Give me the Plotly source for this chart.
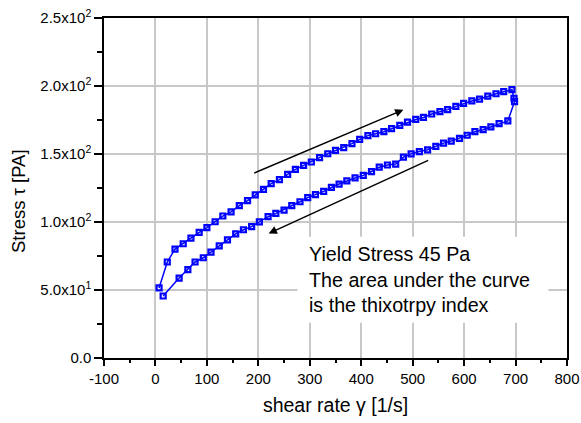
import plotly.graph_objects as go

# Flow curve: shear rate (1/s) vs stress (Pa), up-sweep then down-sweep
shear_rate = [7, 23, 38, 54, 69, 85, 100, 116, 131, 147, 163, 179, 194, 210, 225, 241,
              257, 272, 288, 303, 319, 335, 350, 366, 382, 397, 413, 428, 444, 459, 475,
              490, 506, 521, 537, 553, 568, 584, 599, 615, 630, 646, 662, 677, 693, 697, 698,
              685, 668, 652, 637, 621, 606, 591, 575, 560, 545, 529, 513, 497, 482, 467,
              451, 435, 420, 404, 388, 372, 357, 342, 327, 311, 296, 281, 265, 250, 234,
              219, 202, 187, 171, 156, 140, 124, 108, 93, 77, 63, 46, 15]
stress = [51.5, 70.6, 80.1, 84.0, 88.2, 92.4, 95.8, 100.2, 104.4, 107.4, 112.0, 115.7,
          119.9, 124.0, 128.2, 131.1, 135.0, 138.7, 141.6, 144.1, 147.3, 150.2, 152.6,
          154.7, 157.6, 160.7, 163.5, 164.9, 166.4, 168.6, 171.0, 173.5, 175.4, 176.9,
          179.4, 181.1, 182.6, 185.0, 187.2, 189.0, 190.4, 192.6, 194.3, 195.8, 197.3,
          191.0, 188.5,
          174.3, 172.3, 169.9, 167.9, 166.4, 163.8, 161.5, 159.5, 158.0, 155.6, 153.1,
          151.8, 150.1, 147.7, 142.6, 141.9, 140.3, 137.1, 134.3, 132.4, 130.3, 127.9,
          125.4, 122.5, 120.1, 117.9, 114.9, 112.0, 108.8, 106.3, 103.9, 100.1, 96.6,
          94.3, 91.3, 86.8, 82.4, 77.9, 73.7, 70.6, 65.0, 58.8, 45.6]

x_ticks = [-100, 0, 100, 200, 300, 400, 500, 600, 700, 800]
x_tick_text = ["-100", "0", "100", "200", "300", "400", "500", "600", "700", "800"]
y_ticks = [0, 50, 100, 150, 200, 250]
y_tick_text = ["0.0", "5.0x10<sup>1</sup>", "1.0x10<sup>2</sup>", "1.5x10<sup>2</sup>",
               "2.0x10<sup>2</sup>", "2.5x10<sup>2</sup>"]

# arrows: (head_x, head_y, tail_x, tail_y)
arrows = [(482, 182.5, 189, 135.5), (220, 91.5, 533, 145.8)]
note = "Yield Stress 45 Pa<br>The area under the curve<br>is the thixotrpy index"

FONT = "Liberation Sans, Arial, sans-serif"

fig = go.Figure()
fig.add_trace(go.Scatter(
    x=shear_rate, y=stress, mode="lines+markers",
    line=dict(color="#0000ff", width=1.5),
    marker=dict(symbol="square-open", size=5, color="#0000ff",
                line=dict(color="#0000ff", width=2.2)),
    showlegend=False, hoverinfo="skip"))

# white box behind the note
fig.add_shape(type="rect", xref="x", yref="y", x0=276, x1=764, y0=26, y1=89.2,
              fillcolor="white", line=dict(width=0), layer="between")

for hx, hy, tx, ty in arrows:
    fig.add_annotation(x=hx, y=hy, ax=tx, ay=ty, xref="x", yref="y", axref="x", ayref="y",
                       text="", showarrow=True, arrowhead=2, arrowsize=1.1,
                       arrowwidth=1.5, arrowcolor="black")

fig.add_annotation(x=295, y=57.5, xref="x", yref="y", xanchor="left", yanchor="middle",
                   text=note, showarrow=False, align="left",
                   font=dict(family=FONT, size=19.7, color="black"))

fig.add_annotation(x=18, y=201, xref="paper", yref="paper", textangle=-90,
                   text="Stress \u03c4 [PA]", showarrow=False,
                   xanchor="center", yanchor="middle",
                   font=dict(family=FONT, size=18.5, color="black"))

fig.update_layout(
    width=581, height=423,
    margin=dict(l=104, r=14, t=18, b=65),
    paper_bgcolor="white", plot_bgcolor="white",
    font=dict(family=FONT, size=15, color="black"),
    xaxis=dict(range=[-100, 800], tickvals=x_ticks, ticktext=x_tick_text, ticks="outside",
               ticklen=6, automargin=False,
               tickwidth=1.5, tickcolor="black", showline=True, linecolor="black",
               linewidth=1.5, mirror=True, showgrid=True, gridcolor="#c8c8c8",
               gridwidth=1.5, zeroline=False,
               minor=dict(dtick=50, ticks="outside", ticklen=3, tickwidth=1.5,
                          tickcolor="black", showgrid=False),
               title=dict(text="shear rate \u03b3 [1/s]", standoff=13,
                          font=dict(family=FONT, size=19.5))),
    yaxis=dict(range=[0, 250], tickvals=y_ticks, ticktext=y_tick_text, ticks="outside",
               ticklen=8, tickwidth=1.5, tickcolor="black", showline=True, automargin=False,
               linecolor="black", linewidth=1.5, mirror=True, showgrid=True,
               gridcolor="#c8c8c8", gridwidth=1.5, zeroline=False,
               minor=dict(dtick=25, ticks="outside", ticklen=5, tickwidth=1.5,
                          tickcolor="black", showgrid=False)),
)

# convert the y-title pixel position to paper coordinates
ann = fig.layout.annotations[-1]
ann.x = (ann.x - 104) / (581 - 104 - 14)
ann.y = (423 - 65 - ann.y) / (423 - 18 - 65)

fig.write_html("out.html")
